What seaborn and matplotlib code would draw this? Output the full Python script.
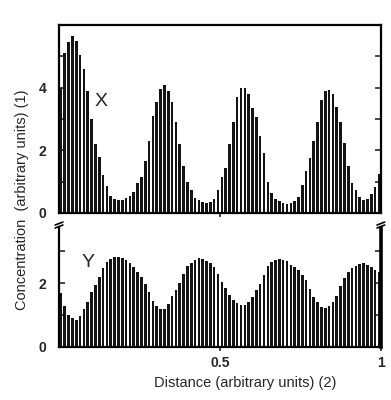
import matplotlib

matplotlib.use("Agg")
import matplotlib.pyplot as plt
import numpy as np
import pandas as pd
import seaborn as sns

sns.set_theme(style="white")
plt.rcParams["font.family"] = ["Liberation Sans", "DejaVu Sans"]

# concentration of X per bar (84 bars over distance 0..1)
conc_x = [4.0, 5.1, 5.45, 5.65, 5.5, 5.05, 4.6, 3.9, 3.0, 2.2,
          1.8, 1.2, 0.85, 0.55, 0.45, 0.42, 0.42, 0.47, 0.55, 0.68,
          0.95, 1.15, 1.65, 2.3, 3.1, 3.55, 3.95, 4.1, 3.9, 3.55,
          2.9, 2.2, 1.5, 1.0, 0.72, 0.48, 0.41, 0.34, 0.33, 0.36,
          0.45, 0.72, 1.15, 1.45, 2.2, 2.9, 3.7, 4.0, 4.0, 3.8,
          3.35, 3.05, 2.45, 1.9, 1.0, 0.65, 0.45, 0.38, 0.32, 0.3,
          0.32, 0.38, 0.5, 0.9, 1.35, 1.75, 2.3, 2.9, 3.6, 3.88,
          3.94, 3.8, 3.38, 2.9, 2.25, 1.5, 0.95, 0.73, 0.52, 0.42,
          0.46, 0.62, 0.82, 1.25]

# concentration of Y per bar
conc_y = [1.7, 1.3, 1.0, 0.92, 0.86, 0.98, 1.18, 1.42, 1.73, 1.94,
          2.2, 2.47, 2.67, 2.75, 2.81, 2.83, 2.79, 2.72, 2.64, 2.5,
          2.35, 2.18, 1.98, 1.72, 1.45, 1.28, 1.18, 1.2, 1.35, 1.6,
          1.8, 2.0, 2.3, 2.55, 2.64, 2.72, 2.78, 2.77, 2.7, 2.63,
          2.52, 2.3, 2.05, 1.84, 1.63, 1.48, 1.38, 1.33, 1.33, 1.4,
          1.58, 1.78, 1.98, 2.25, 2.55, 2.67, 2.72, 2.75, 2.73, 2.68,
          2.58, 2.52, 2.4, 2.25, 2.1, 1.82, 1.56, 1.4, 1.24, 1.21,
          1.27, 1.42, 1.6, 1.92, 2.15, 2.36, 2.47, 2.54, 2.6, 2.62,
          2.57, 2.52, 2.42, 2.36]

n_bars = len(conc_x)
distance = (np.arange(n_bars) + 0.5) / n_bars

df = pd.DataFrame({"distance": distance, "X": conc_x, "Y": conc_y})

bar_color = "#141414"
tick_font = dict(fontsize=10, fontweight="bold")

fig = plt.figure(figsize=(3.91, 4.0), dpi=100)
ax_top = fig.add_axes([0.151, 0.4675, 0.823, 0.47])
ax_bot = fig.add_axes([0.151, 0.1325, 0.823, 0.2975])

for ax, col in [(ax_top, "X"), (ax_bot, "Y")]:
    sns.barplot(data=df, x="distance", y=col, native_scale=True,
                color=bar_color, width=0.68, edgecolor="none",
                saturation=1, ax=ax)
    ax.set_xlim(0, 1)
    ax.set_xlabel("")
    ax.set_ylabel("")
    for s in ax.spines.values():
        s.set_color("black")
        s.set_linewidth(1.6)
    ax.tick_params(axis="y", direction="in", length=4, width=1.2,
                   left=True, right=True, pad=9, labelsize=10)
    ax.tick_params(axis="x", direction="out", length=3, width=1.2,
                   bottom=True, labelsize=10)

# top panel
ax_top.set_ylim(0, 6)
ax_top.set_yticks([0, 1, 2, 3, 4, 5])
ax_top.set_yticklabels(["0", "", "2", "", "4", ""], **tick_font)
ax_top.set_xticks([0.5])
ax_top.set_xticklabels([])
ax_top.text(0.13, 3.55, "X", fontsize=14, va="center", ha="center")

# bottom panel
ax_bot.set_ylim(0, 3.73)
ax_bot.set_yticks([0, 1, 2, 3])
ax_bot.set_yticklabels(["0", "", "2", ""], **tick_font)
ax_bot.set_xticks([0.5, 1.0])
ax_bot.set_xticklabels(["0.5", "1"], **tick_font)
ax_bot.spines["top"].set_visible(False)
ax_bot.spines["right"].set_linewidth(2.6)
ax_bot.text(0.09, 2.66, "Y", fontsize=14, va="center", ha="center")

# axis break marks
for xb in (0.0, 1.0):
    for dy in (0.0, 0.025):
        ax_bot.plot([xb - 0.012, xb + 0.012], [1.0 + dy, 1.025 + dy],
                    transform=ax_bot.transAxes, color="black", lw=1.2,
                    clip_on=False)

fig.text(0.056, 0.5, "Concentration  (arbitrary units) (1)", rotation=90,
         ha="center", va="center", fontsize=10.5)
fig.text(0.627, 0.043, "Distance (arbitrary units) (2)", ha="center",
         va="center", fontsize=10.5)

fig.savefig("out.png", dpi=100)
